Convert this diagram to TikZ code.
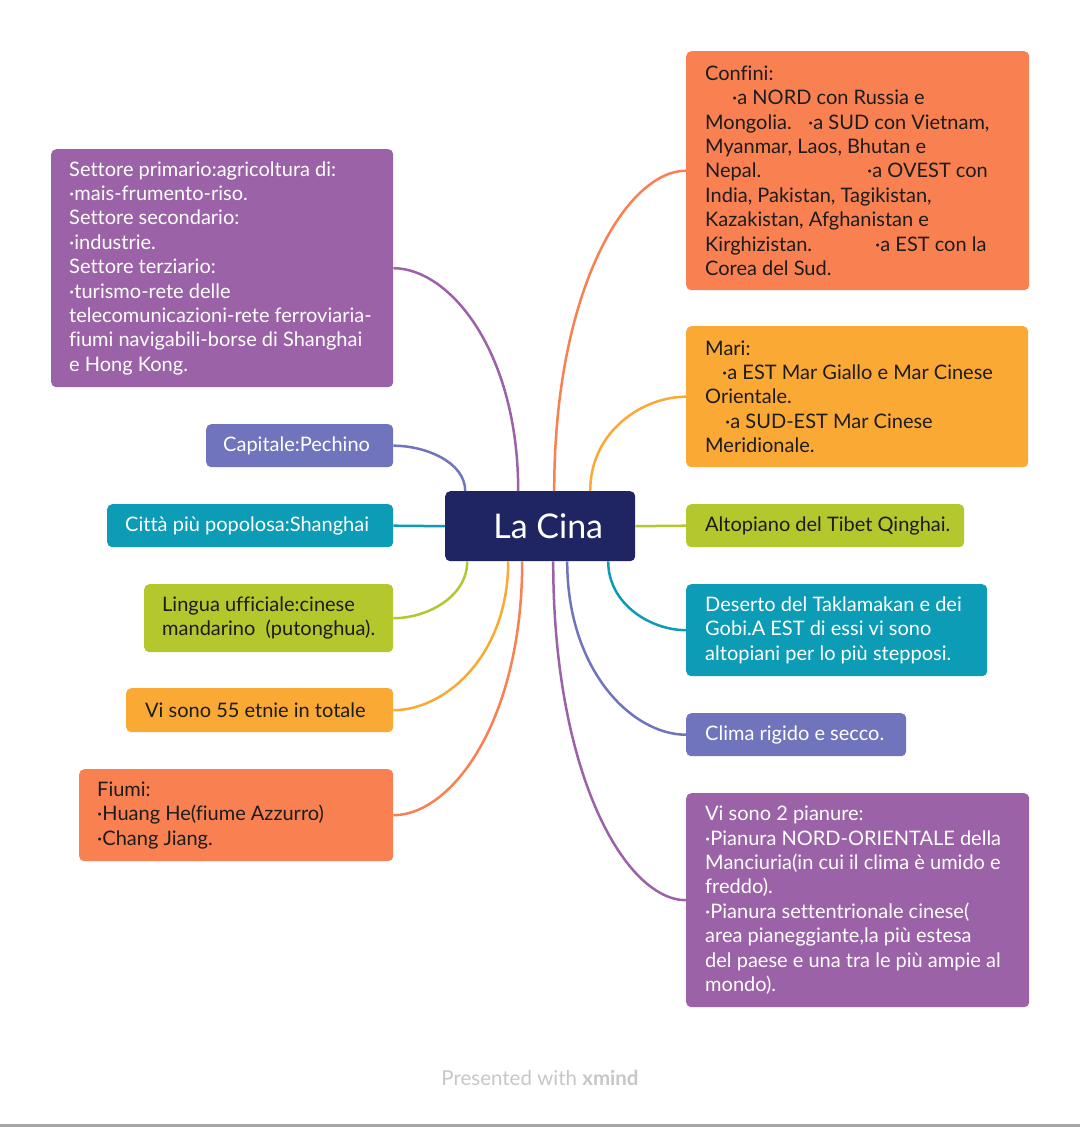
\documentclass[tikz,border=0pt]{standalone}
\usepackage{fontspec}
\setmainfont{Lato}[Ligatures=NoCommon]
\definecolor{cpurple}{HTML}{9C62A8}
\definecolor{cperi}{HTML}{6F74BC}
\definecolor{cteal}{HTML}{0C9CB6}
\definecolor{clime}{HTML}{B4C72C}
\definecolor{cyell}{HTML}{FBA935}
\definecolor{ccoral}{HTML}{F98151}
\definecolor{cnavy}{HTML}{1F2462}
\definecolor{cdark}{HTML}{1C1C1C}
\tikzset{
  boxshape/.style={rounded corners=5pt, inner sep=0pt, anchor=north west, draw=none},
  txt/.style={inner sep=0pt, align=left, anchor=west, font=\fontsize{20}{24.4}\selectfont},
  link/.style={line width=2.5pt},
}
\begin{document}
\begin{tikzpicture}[x=1pt,y=-1pt]
\useasboundingbox (0,0) rectangle (1080,1127);
\fill[white] (0,0) rectangle (1080,1127);
\fill[gray!70] (0,1124) rectangle (1080,1127);

% central node
\node[boxshape, fill=cnavy, minimum width=190pt, minimum height=70pt] (cina) at (445,491) {};
\node[inner sep=0pt, text=white, font=\fontsize{34}{40}\selectfont] (cinaT) at ([xshift=8pt]cina.center) {La Cina};

% left boxes
\node[boxshape, fill=cpurple, minimum width=342pt, minimum height=238pt] (settore) at (51,149) {};
\node[txt, text=white] (settoreT) at ([xshift=18pt]settore.west) {Settore primario:agricoltura di:\\·mais-frumento-riso.\\Settore secondario:\\·industrie.\\Settore terziario:\\·turismo-rete delle\\telecomunicazioni-rete ferroviaria-\\fiumi navigabili-borse di Shanghai\\e Hong Kong.};

\node[boxshape, fill=cperi, minimum width=187pt, minimum height=43pt] (capitale) at (206,424) {};
\node[txt, text=white] (capitaleT) at ([xshift=17pt]capitale.west) {Capitale:Pechino};

\node[boxshape, fill=cteal, minimum width=286pt, minimum height=43pt] (citta) at (107,504) {};
\node[txt, text=white] (cittaT) at ([xshift=18pt]citta.west) {Città più popolosa:Shanghai};

\node[boxshape, fill=clime, minimum width=249pt, minimum height=68pt] (lingua) at (144,584) {};
\node[txt, text=cdark] (linguaT) at ([xshift=18pt]lingua.west) {Lingua ufficiale:cinese\\mandarino\ \ (putonghua).};

\node[boxshape, fill=cyell, minimum width=267pt, minimum height=44pt] (etnie) at (126,688) {};
\node[txt, text=cdark] (etnieT) at ([xshift=19pt]etnie.west) {Vi sono 55 etnie in totale};

\node[boxshape, fill=ccoral, minimum width=314pt, minimum height=92pt] (fiumi) at (79,769) {};
\node[txt, text=cdark] (fiumiT) at ([xshift=18pt]fiumi.west) {Fiumi:\\·Huang He(fiume Azzurro)\\·Chang Jiang.};

% right boxes
\node[boxshape, fill=ccoral, minimum width=343pt, minimum height=239pt] (confini) at (686,51) {};
\node[txt, text=cdark] (confiniT) at ([xshift=19pt]confini.west) {Confini:\\\hspace*{27pt}·a NORD con Russia e\\\makebox[103pt][l]{Mongolia.}·a SUD con Vietnam,\\Myanmar, Laos, Bhutan e\\\makebox[162pt][l]{Nepal.}·a OVEST con\\India, Pakistan, Tagikistan,\\Kazakistan, Afghanistan e\\\makebox[170pt][l]{Kirghizistan.}·a EST con la\\Corea del Sud.};

\node[boxshape, fill=cyell, minimum width=342pt, minimum height=141pt] (mari) at (686,326) {};
\node[txt, text=cdark] (mariT) at ([xshift=19pt]mari.west) {Mari:\\\hspace*{17pt}·a EST Mar Giallo e Mar Cinese\\Orientale.\\\hspace*{20pt}·a SUD-EST Mar Cinese\\Meridionale.};

\node[boxshape, fill=clime, minimum width=278pt, minimum height=43pt] (alto) at (686,504) {};
\node[txt, text=cdark] (altoT) at ([xshift=19pt]alto.west) {Altopiano del Tibet Qinghai.};

\node[boxshape, fill=cteal, minimum width=301pt, minimum height=92pt] (deserto) at (686,584) {};
\node[txt, text=white] (desertoT) at ([xshift=19pt]deserto.west) {Deserto del Taklamakan e dei\\Gobi.A EST di essi vi sono\\altopiani per lo più stepposi.};

\node[boxshape, fill=cperi, minimum width=220pt, minimum height=43pt] (clima) at (686,713) {};
\node[txt, text=white] (climaT) at ([xshift=19pt]clima.west) {Clima rigido e secco.};

\node[boxshape, fill=cpurple, minimum width=343pt, minimum height=214pt] (pianure) at (686,793) {};
\node[txt, text=white] (pianureT) at ([xshift=19pt]pianure.west) {Vi sono 2 pianure:\\·Pianura NORD-ORIENTALE della\\Manciuria(in cui il clima è umido e\\freddo).\\·Pianura settentrionale cinese(\\area pianeggiante,la più estesa\\del paese e una tra le più ampie al\\mondo).};

% connectors
\draw[link, cpurple] (settore.east) .. controls +(56,0) and +(0,-140) .. ([xshift=-22pt]cina.north);
\draw[link, cperi] (capitale.east) .. controls +(32,0) and +(0,-29) .. ([xshift=-75pt]cina.north);
\draw[link, cteal] (citta.east) -- (cina.west);
\draw[link, clime] (lingua.east) .. controls +(33,0) and +(0,36) .. ([xshift=-73pt]cina.south);
\draw[link, cyell] (etnie.east) .. controls +(52,0) and +(0,94) .. ([xshift=-32pt]cina.south);
\draw[link, ccoral] (fiumi.east) .. controls +(58,0) and +(0,160) .. ([xshift=-18pt]cina.south);

\draw[link, ccoral] (confini.west) .. controls +(-59,0) and +(0,-202) .. ([xshift=14pt]cina.north);
\draw[link, cyell] (mari.west) .. controls +(-43,0) and +(0,-60) .. ([xshift=50pt]cina.north);
\draw[link, clime] (cina.east) -- (alto.west);
\draw[link, cteal] (deserto.west) .. controls +(-35,0) and +(0,43) .. ([xshift=68pt]cina.south);
\draw[link, cperi] (clima.west) .. controls +(-54,0) and +(0,109) .. ([xshift=27pt]cina.south);
\draw[link, cpurple] (pianure.west) .. controls +(-60,0) and +(0,214) .. ([xshift=13pt]cina.south);

% footer
\node[inner sep=0pt, text=black!22, font=\fontsize{20.5}{24}\selectfont] (footer) at (540,1078) {Presented with \textbf{xmind}};
\end{tikzpicture}
\end{document}
